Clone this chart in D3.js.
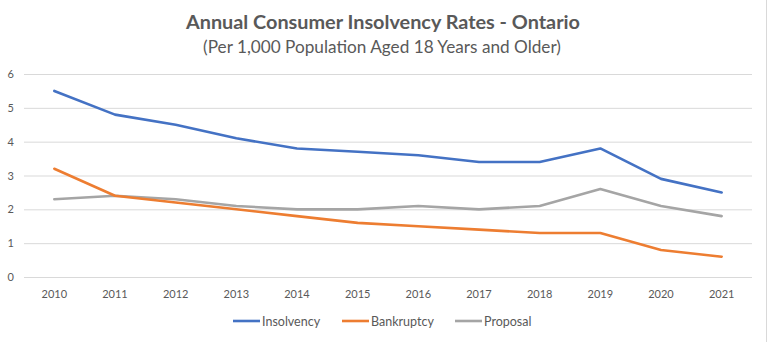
<!DOCTYPE html>
<html>
<head>
<meta charset="utf-8">
<script src="https://cdn.jsdelivr.net/npm/d3@7"></script>
<style>
  html, body { margin: 0; padding: 0; background: #fff; }
  svg { display: block; }
  text { font-family: Lato, "Open Sans", "Noto Sans", sans-serif; fill: #595959; }
</style>
</head>
<body>
<svg id="chart" width="768" height="342"></svg>
<script>
// Annual consumer insolvency rates, Ontario (per 1,000 population aged 18+)
const years = ["2010","2011","2012","2013","2014","2015","2016","2017","2018","2019","2020","2021"];
const insolvency = [5.5, 4.8, 4.5, 4.1, 3.8, 3.7, 3.6, 3.4, 3.4, 3.8, 2.9, 2.5];
const bankruptcy = [3.2, 2.4, 2.2, 2.0, 1.8, 1.6, 1.5, 1.4, 1.3, 1.3, 0.8, 0.6];
const proposal   = [2.3, 2.4, 2.3, 2.1, 2.0, 2.0, 2.1, 2.0, 2.1, 2.6, 2.1, 1.8];
const yTicks = [0, 1, 2, 3, 4, 5, 6];

const series = [
  { name: "Insolvency", values: insolvency, color: "#4472C4" },
  { name: "Bankruptcy", values: bankruptcy, color: "#ED7D31" },
  { name: "Proposal",   values: proposal,   color: "#A5A5A5" }
];

const svg = d3.select("#chart");
const W = 768, H = 342;
const plot = { left: 24, right: 752, top: 74, bottom: 277 };

// outer frame edge on the right
svg.append("line").attr("x1", 766.5).attr("x2", 766.5).attr("y1", 0).attr("y2", H)
  .attr("stroke", "#d9d9d9").attr("stroke-width", 1);

const x = d3.scaleBand().domain(years).range([plot.left, plot.right]);
const y = d3.scaleLinear().domain([0, 6]).range([plot.bottom, plot.top]);

// fit a text element to a target width by adjusting its font size
function fit(sel, width) {
  const node = sel.node();
  const fs = parseFloat(sel.attr("font-size"));
  const len = node.getComputedTextLength();
  if (len > 0) sel.attr("font-size", (fs * width / len).toFixed(2));
}

// titles
const t1 = svg.append("text").attr("x", 383).attr("y", 29).attr("text-anchor", "middle")
  .attr("font-size", 18).attr("font-weight", 700).text("Annual Consumer Insolvency Rates - Ontario");
fit(t1, 394);
const t2 = svg.append("text").attr("x", 382).attr("y", 53).attr("text-anchor", "middle")
  .attr("font-size", 16).text("(Per 1,000 Population Aged 18 Years and Older)");
fit(t2, 358);

// gridlines
const yAxis = d3.axisLeft(y).tickValues(yTicks).tickSize(-(plot.right - plot.left)).tickPadding(10).tickFormat(d3.format("d"));
const gy = svg.append("g").attr("transform", `translate(${plot.left},0)`).call(yAxis);
gy.select(".domain").remove();
gy.selectAll(".tick line").attr("stroke", "#d9d9d9").attr("stroke-width", 1);
gy.selectAll(".tick text").attr("font-size", 11).attr("fill", "#595959")
  .attr("font-family", "Lato, 'Open Sans', sans-serif");

// x axis labels
const xAxis = d3.axisBottom(x).tickSize(0).tickPadding(13);
const gx = svg.append("g").attr("transform", `translate(0,${plot.bottom})`).call(xAxis);
gx.select(".domain").remove();
gx.selectAll(".tick text").attr("font-size", 11).attr("fill", "#595959")
  .attr("font-family", "Lato, 'Open Sans', sans-serif");

// series lines
const line = d3.line()
  .x((d, i) => x(years[i]) + x.bandwidth() / 2)
  .y(d => y(d));

series.slice().reverse().forEach(s => {
  svg.append("path").datum(s.values)
    .attr("fill", "none")
    .attr("stroke", s.color)
    .attr("stroke-width", 2.6)
    .attr("stroke-linejoin", "round")
    .attr("stroke-linecap", "round")
    .attr("d", line);
});

// legend
const legendX = [233, 342, 455];
const legendY = 321;
series.forEach((s, i) => {
  const g = svg.append("g").attr("transform", `translate(${legendX[i]},${legendY})`);
  g.append("line").attr("x1", 0).attr("x2", 27).attr("y1", 0).attr("y2", 0)
    .attr("stroke", s.color).attr("stroke-width", 2.6);
  g.append("text").attr("x", 29).attr("y", 4.5).attr("font-size", 12.5).text(s.name);
});
</script>
</body>
</html>
